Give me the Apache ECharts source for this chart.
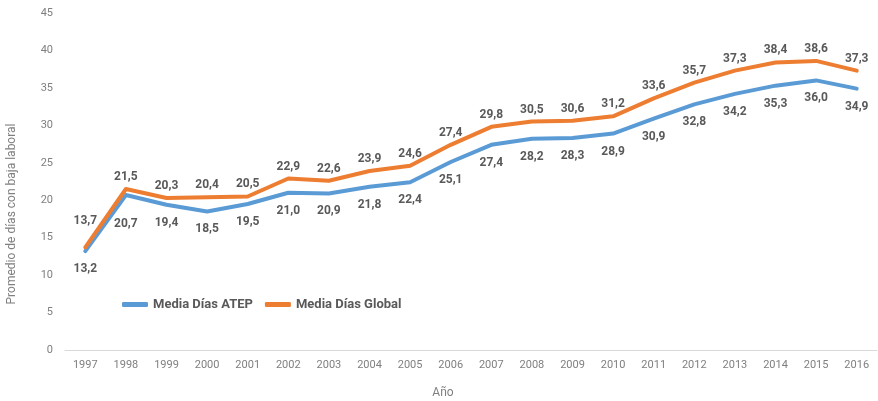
<!DOCTYPE html>
<html>
<head>
<meta charset="utf-8">
<script src="https://cdn.jsdelivr.net/npm/echarts@6/dist/echarts.min.js"></script>
<style>
  html, body { margin: 0; padding: 0; background: #fff; }
  #chart { width: 878px; height: 401px; }
</style>
</head>
<body>
<div id="chart"></div>
<script>
// Years on the category axis
const years = ['1997','1998','1999','2000','2001','2002','2003','2004','2005','2006',
               '2007','2008','2009','2010','2011','2012','2013','2014','2015','2016'];

// Average days of sick leave, work-related accidents (ATEP)
const mediaAtep = [13.2, 20.7, 19.4, 18.5, 19.5, 21.0, 20.9, 21.8, 22.4, 25.1,
                   27.4, 28.2, 28.3, 28.9, 30.9, 32.8, 34.2, 35.3, 36.0, 34.9];

// Average days of sick leave, all causes
const mediaGlobal = [13.7, 21.5, 20.3, 20.4, 20.5, 22.9, 22.6, 23.9, 24.6, 27.4,
                     29.8, 30.5, 30.6, 31.2, 33.6, 35.7, 37.3, 38.4, 38.6, 37.3];

// Y axis ticks
const yTicks = { min: 0, max: 45, step: 5 };

const FONT = 'Roboto, "Noto Sans", sans-serif';
const LABEL_COLOR = '#595959';

// Labels are nudged further away where the two lines nearly touch
const atepLabelExtra = { 1: 11 };
const globalLabelExtra = { 0: 14 };

const fmt = v => v.toFixed(1).replace('.', ',');

function buildData(values, extra, pos, baseDist) {
  return values.map((v, i) => {
    if (extra[i] === undefined) return v;
    return { value: v, label: { position: pos, distance: baseDist + extra[i] } };
  });
}

const chart = echarts.init(document.getElementById('chart'), null, { renderer: 'canvas' });

const labelStyle = {
  show: true,
  color: LABEL_COLOR,
  fontFamily: FONT,
  fontWeight: 'bold',
  fontSize: 12,
  formatter: p => fmt(p.value)
};

chart.setOption({
  animation: false,
  backgroundColor: '#ffffff',
  grid: { left: 65, right: 1, top: 13, bottom: 51, containLabel: false },
  legend: {
    left: 117,
    top: 293,
    itemWidth: 26,
    itemHeight: 5,
    itemGap: 12,
    icon: 'roundRect',
    textStyle: { color: LABEL_COLOR, fontFamily: FONT, fontWeight: 'bold', fontSize: 13 },
    data: ['Media Días ATEP', 'Media Días Global']
  },
  xAxis: {
    type: 'category',
    data: years,
    boundaryGap: true,
    axisLine: { lineStyle: { color: '#d9d9d9', width: 1 } },
    axisTick: { show: false },
    axisLabel: { color: '#7f7f7f', fontFamily: FONT, fontSize: 11, margin: 10 }
  },
  yAxis: {
    type: 'value',
    min: yTicks.min,
    max: yTicks.max,
    interval: yTicks.step,
    axisLine: { show: false },
    axisTick: { show: false },
    splitLine: { show: false },
    axisLabel: { color: '#7f7f7f', fontFamily: FONT, fontSize: 11, margin: 12 }
  },
  graphic: [
    {
      type: 'text',
      x: 12, y: 214,
      rotation: Math.PI / 2,
      style: {
        text: 'Promedio de días con baja laboral',
        fill: '#7f7f7f',
        font: '12px ' + FONT,
        align: 'center',
        verticalAlign: 'middle'
      }
    },
    {
      type: 'text',
      x: 443, y: 393,
      style: {
        text: 'Año',
        fill: '#7f7f7f',
        font: '12px ' + FONT,
        align: 'center',
        verticalAlign: 'middle'
      }
    }
  ],
  series: [
    {
      name: 'Media Días ATEP',
      type: 'line',
      data: buildData(mediaAtep, atepLabelExtra, 'bottom', 12),
      symbol: 'circle',
      symbolSize: 0,
      showSymbol: true,
      color: '#5B9BD5',
      lineStyle: { width: 4, color: '#5B9BD5', cap: 'round', join: 'round' },
      label: Object.assign({}, labelStyle, { position: 'bottom', distance: 12 }),
      labelLayout: { hideOverlap: false },
      z: 2
    },
    {
      name: 'Media Días Global',
      type: 'line',
      data: buildData(mediaGlobal, globalLabelExtra, 'top', 6),
      symbol: 'circle',
      symbolSize: 0,
      showSymbol: true,
      color: '#ED7D31',
      lineStyle: { width: 4, color: '#ED7D31', cap: 'round', join: 'round' },
      label: Object.assign({}, labelStyle, { position: 'top', distance: 6 }),
      labelLayout: { hideOverlap: false },
      z: 3
    }
  ]
});
</script>
</body>
</html>
